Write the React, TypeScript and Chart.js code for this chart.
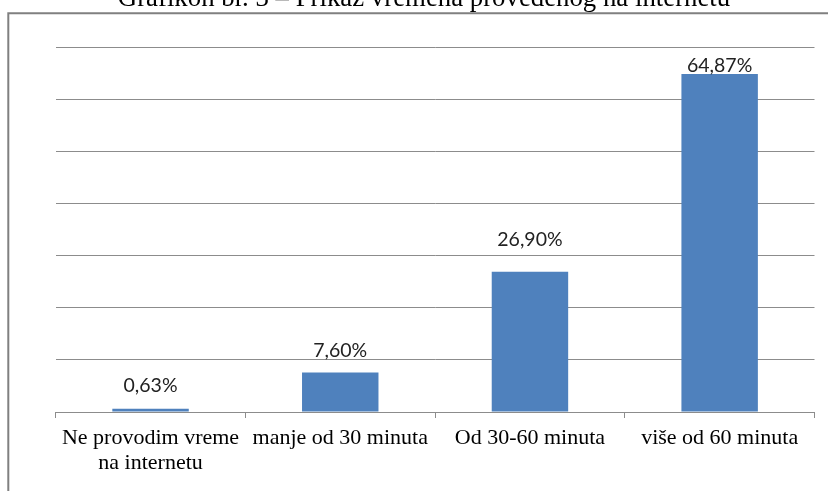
import React, { useEffect, useRef } from "react";
import { Chart, registerables } from "chart.js";

Chart.register(...registerables);

const TITLE = "Grafikon br. 3 – Prikaz vremena provedenog na internetu";
const categories: (string | string[])[] = [
  ["Ne provodim vreme", "na internetu"],
  "manje od 30 minuta",
  "Od 30-60 minuta",
  "više od 60 minuta",
];
const values = [0.63, 7.6, 26.9, 64.87];
const valueLabels = ["0,63%", "7,60%", "26,90%", "64,87%"];
const yMax = 70;
const yStep = 10;

const labelLift = [17, 15.6, 25.6, 2.4];

const framePlugin = {
  id: "frame",
  afterDraw(chart: any) {
    const ctx = chart.ctx;
    ctx.save();
    ctx.strokeStyle = "#808080";
    ctx.lineWidth = 2;
    ctx.beginPath();
    ctx.moveTo(8.3, 600);
    ctx.lineTo(8.3, 13.2);
    ctx.lineTo(900, 13.2);
    ctx.stroke();
    ctx.fillStyle = "#000";
    ctx.font = '26.8px "Liberation Serif"';
    ctx.textAlign = "center";
    ctx.textBaseline = "alphabetic";
    ctx.fillText(TITLE, 424, 6);
    ctx.restore();
  },
};

const valueLabelPlugin = {
  id: "valueLabels",
  afterDatasetsDraw(chart: any) {
    const ctx = chart.ctx;
    const meta = chart.getDatasetMeta(0);
    ctx.save();
    ctx.fillStyle = "#222";
    ctx.font = '19.5px "Lato"';
    ctx.textAlign = "center";
    ctx.textBaseline = "alphabetic";
    meta.data.forEach((bar: any, i: number) => {
      ctx.fillText(valueLabels[i], bar.x, bar.y - labelLift[i]);
    });
    ctx.restore();
  },
};

export default function App() {
  const ref = useRef<HTMLCanvasElement>(null);
  useEffect(() => {
    if (!ref.current) return;
    const chart = new Chart(ref.current, {
      type: "bar",
      data: {
        labels: categories,
        datasets: [
          {
            data: values,
            backgroundColor: "#4f81bd",
            borderWidth: 0,
            categoryPercentage: 1,
            barPercentage: 0.403,
          },
        ],
      },
      options: {
        animation: false,
        responsive: false,
        layout: { padding: { left: 55.7, right: 13.5, top: 47.3, bottom: 0 } },
        plugins: {
          legend: { display: false },
          tooltip: { enabled: false },
          title: { display: false },
        },
        scales: {
          x: {
            grid: {
              display: true,
              drawOnChartArea: false,
              drawTicks: true,
              tickLength: 6,
              color: "#8c8c8c",
              offset: true,
            },
            border: { display: true, color: "#8c8c8c", width: 1 },
            ticks: {
              color: "#000",
              font: { family: '"Liberation Serif"', size: 22, lineHeight: 1.136 },
              padding: 8,
              maxRotation: 0,
              autoSkip: false,
            },
            afterFit(scale: any) {
              scale.height = 79;
            },
          },
          y: {
            min: 0,
            max: yMax,
            ticks: { display: false, stepSize: yStep },
            grid: { color: "#8c8c8c", drawTicks: false },
            border: { display: false },
            afterFit(scale: any) {
              scale.width = 0;
            },
          },
        },
      },
      plugins: [framePlugin, valueLabelPlugin],
    });
    return () => chart.destroy();
  }, []);
  return (
    <div style={{ position: "fixed", left: 0, top: 0, width: 828, height: 491, background: "#fff" }}>
      <canvas ref={ref} width={828} height={491} />
    </div>
  );
}
